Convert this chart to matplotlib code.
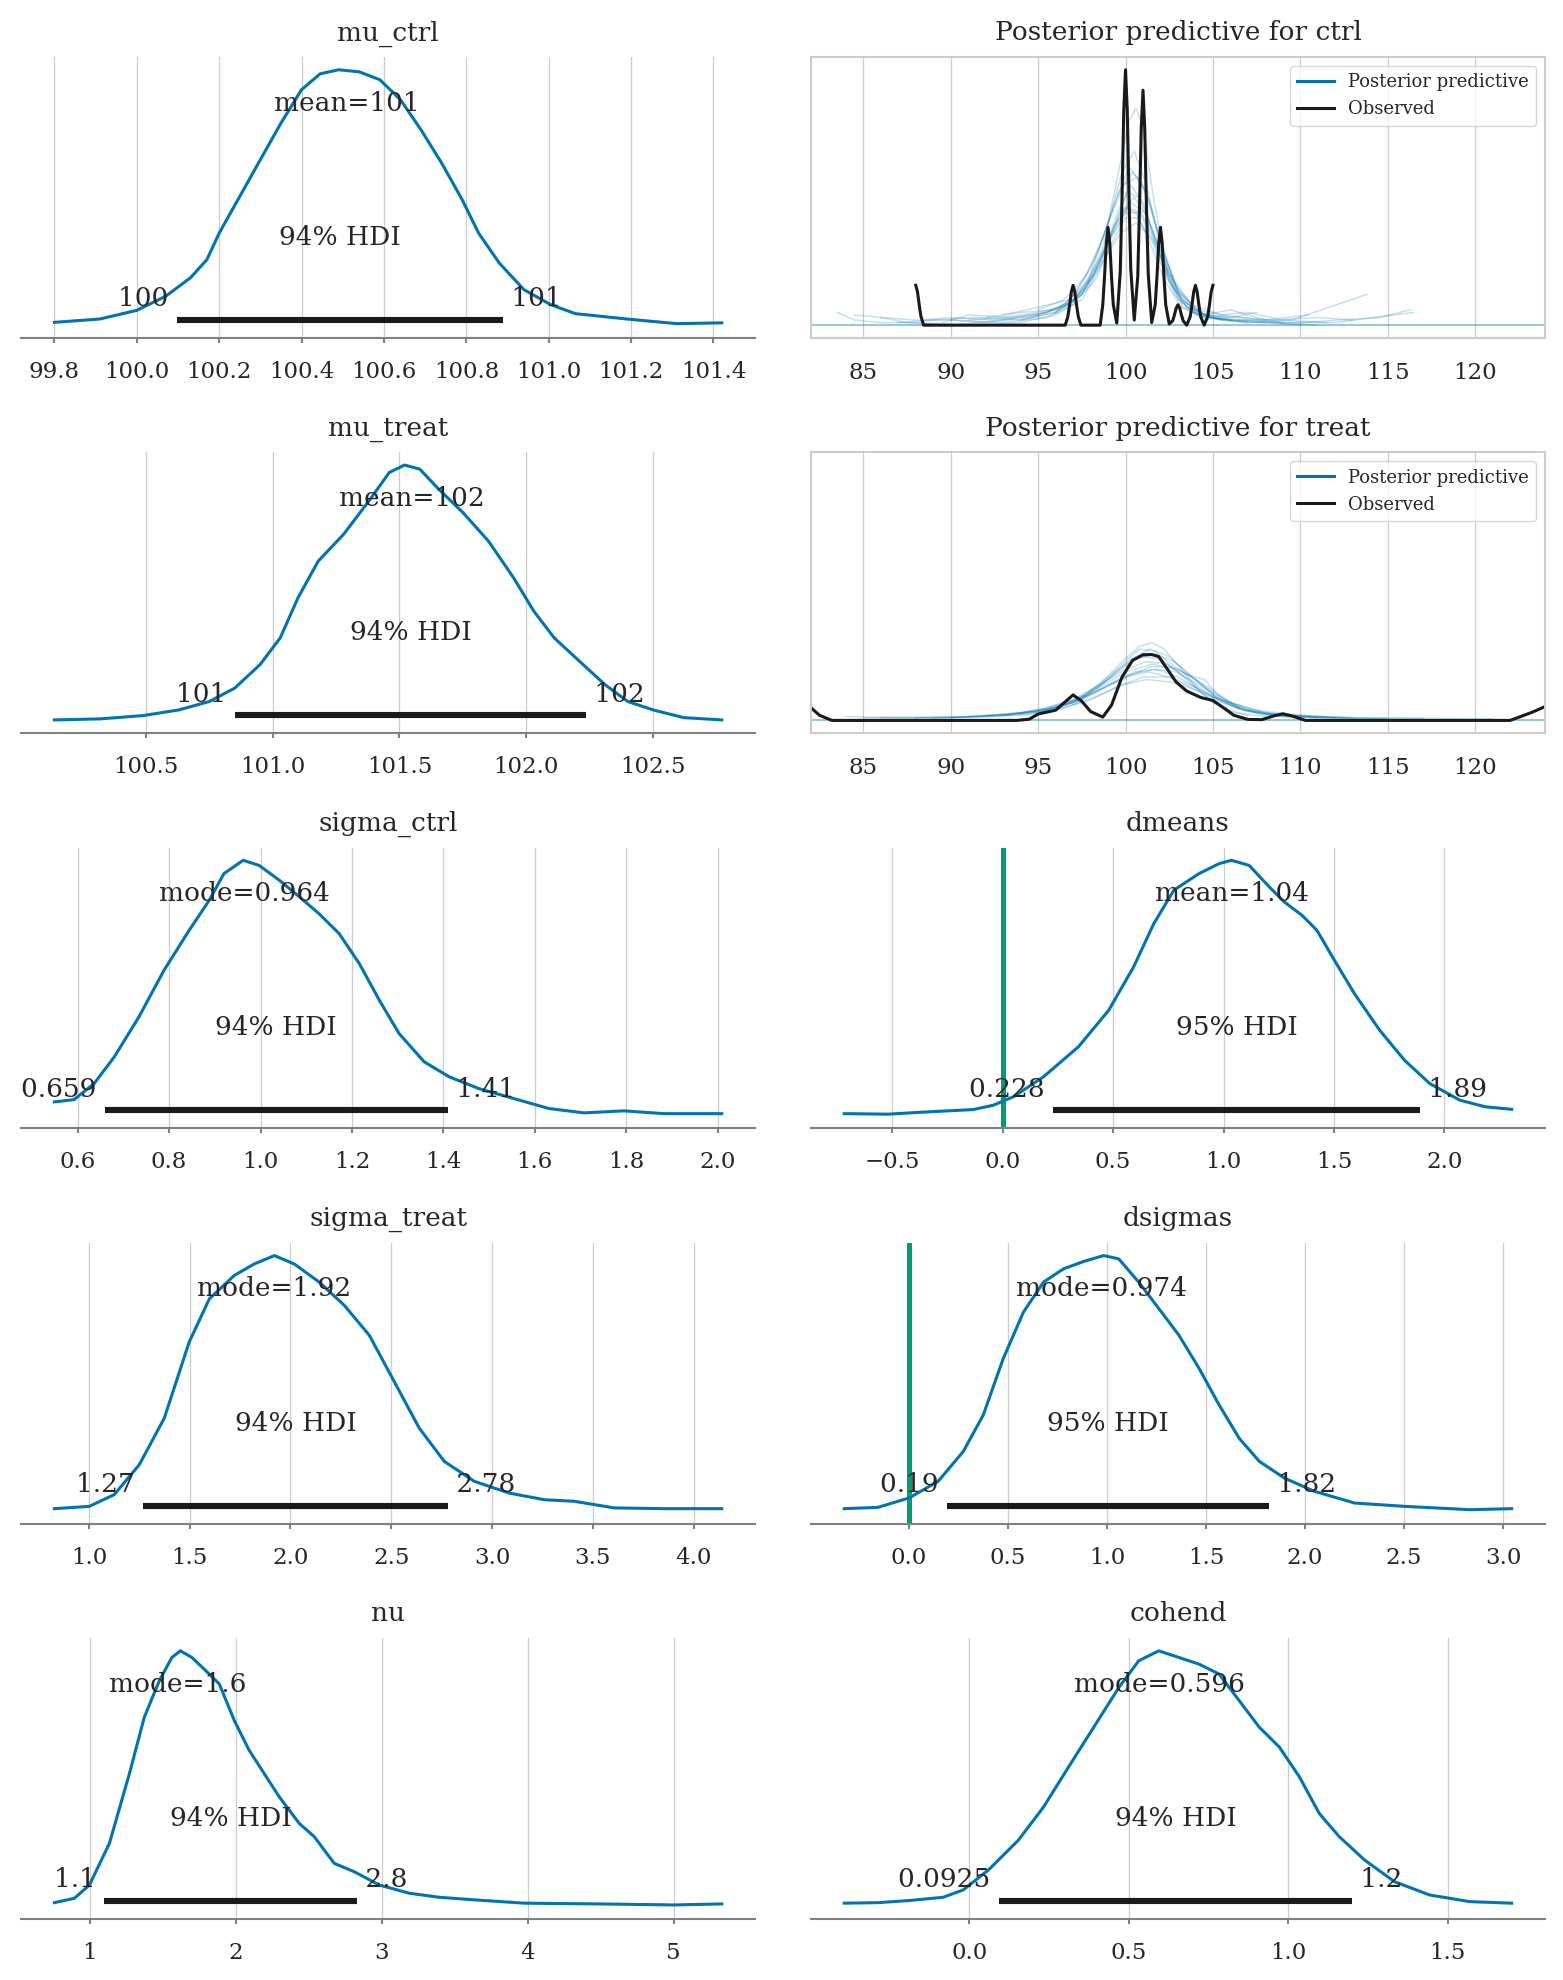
import matplotlib as mpl
import matplotlib.pyplot as plt
from matplotlib.lines import Line2D
from matplotlib.ticker import MultipleLocator

mpl.use("Agg")

plt.rcParams["font.family"] = ["DejaVu Serif"]
plt.rcParams["text.color"] = "#262626"

BLUE = "#0173B2"
GREEN = "#029E73"
GRID = "#cccccc"
TEXT = "#262626"

# ---- posterior densities (peak scaled to 1) ----
mu_ctrl_x = [99.80, 99.91, 100.00, 100.07, 100.13, 100.17, 100.20, 100.25, 100.30, 100.35,
             100.40, 100.445, 100.49, 100.54, 100.59, 100.64, 100.69, 100.74, 100.79, 100.83,
             100.88, 100.94, 101.005, 101.065, 101.19, 101.31, 101.42]
mu_ctrl_y = [0.011, 0.024, 0.058, 0.113, 0.185, 0.256, 0.36, 0.504, 0.648, 0.791,
             0.922, 0.984, 1.0, 0.992, 0.961, 0.883, 0.765, 0.635, 0.491, 0.36,
             0.243, 0.139, 0.08, 0.045, 0.024, 0.006, 0.009]

mu_treat_x = [100.14, 100.32, 100.49, 100.63, 100.75, 100.85, 100.95, 101.03, 101.10, 101.18,
              101.28, 101.38, 101.46, 101.52, 101.58, 101.655, 101.75, 101.85, 101.95, 102.03,
              102.11, 102.21, 102.31, 102.40, 102.50, 102.62, 102.77]
mu_treat_y = [0.002, 0.006, 0.019, 0.041, 0.074, 0.126, 0.218, 0.323, 0.48, 0.624,
              0.729, 0.86, 0.971, 1.0, 0.984, 0.905, 0.814, 0.703, 0.558, 0.427,
              0.323, 0.231, 0.14, 0.074, 0.041, 0.011, 0.002]

sigma_ctrl_x = [0.549, 0.592, 0.636, 0.68, 0.734, 0.789, 0.844, 0.888, 0.92, 0.962,
                0.997, 1.041, 1.085, 1.128, 1.172, 1.216, 1.26, 1.303, 1.358, 1.413,
                1.478, 1.566, 1.631, 1.708, 1.795, 1.883, 2.009]
sigma_ctrl_y = [0.054, 0.063, 0.126, 0.23, 0.387, 0.57, 0.726, 0.844, 0.948, 1.0,
                0.98, 0.922, 0.857, 0.791, 0.713, 0.596, 0.452, 0.322, 0.211, 0.152,
                0.106, 0.061, 0.028, 0.011, 0.019, 0.008, 0.008]

dmeans_x = [-0.718, -0.52, -0.339, -0.134, -0.043, 0.048, 0.184, 0.343, 0.48, 0.593,
            0.684, 0.775, 0.889, 0.98, 1.036, 1.116, 1.207, 1.275, 1.355, 1.423,
            1.502, 1.593, 1.707, 1.82, 1.934, 2.07, 2.184, 2.305]
dmeans_y = [0.008, 0.006, 0.015, 0.024, 0.041, 0.074, 0.152, 0.27, 0.413, 0.583,
            0.752, 0.883, 0.948, 0.987, 1.0, 0.98, 0.896, 0.837, 0.785, 0.726,
            0.609, 0.478, 0.335, 0.217, 0.126, 0.061, 0.035, 0.025]

sigma_treat_x = [0.829, 1.002, 1.126, 1.25, 1.374, 1.498, 1.598, 1.721, 1.82, 1.92,
                 2.019, 2.143, 2.267, 2.391, 2.515, 2.639, 2.763, 2.912, 3.085, 3.259,
                 3.407, 3.605, 3.853, 4.139]
sigma_treat_y = [0.009, 0.018, 0.064, 0.181, 0.363, 0.662, 0.831, 0.922, 0.967, 1.0,
                 0.967, 0.896, 0.805, 0.688, 0.506, 0.324, 0.194, 0.116, 0.07, 0.044,
                 0.038, 0.012, 0.009, 0.009]

dsigmas_x = [-0.327, -0.157, 0.0, 0.147, 0.274, 0.375, 0.476, 0.578, 0.679, 0.78,
             0.882, 0.983, 1.059, 1.16, 1.262, 1.363, 1.465, 1.566, 1.667, 1.769,
             1.895, 2.047, 2.25, 2.503, 2.833, 3.043]
dsigmas_y = [0.009, 0.014, 0.051, 0.116, 0.233, 0.376, 0.597, 0.779, 0.896, 0.948,
             0.977, 1.0, 0.987, 0.896, 0.792, 0.688, 0.558, 0.415, 0.285, 0.194,
             0.129, 0.077, 0.031, 0.018, 0.005, 0.009]

nu_x = [0.757, 0.894, 0.997, 1.134, 1.271, 1.373, 1.476, 1.562, 1.62, 1.699,
        1.784, 1.887, 1.99, 2.092, 2.195, 2.298, 2.435, 2.538, 2.674, 2.812,
        2.983, 3.188, 3.394, 3.634, 3.976, 4.49, 5.003, 5.329]
nu_y = [0.014, 0.031, 0.083, 0.246, 0.519, 0.74, 0.883, 0.974, 1.0, 0.974,
        0.928, 0.87, 0.727, 0.61, 0.519, 0.428, 0.324, 0.272, 0.168, 0.135,
        0.083, 0.051, 0.035, 0.025, 0.012, 0.009, 0.005, 0.009]

cohend_x = [-0.392, -0.286, -0.192, -0.082, -0.019, 0.06, 0.154, 0.233, 0.311, 0.39,
            0.469, 0.531, 0.594, 0.657, 0.72, 0.783, 0.846, 0.909, 0.972, 1.035,
            1.097, 1.16, 1.239, 1.333, 1.443, 1.569, 1.70]
cohend_y = [0.012, 0.014, 0.022, 0.035, 0.064, 0.142, 0.259, 0.389, 0.545, 0.701,
            0.857, 0.961, 1.0, 0.974, 0.948, 0.909, 0.805, 0.701, 0.623, 0.506,
            0.363, 0.272, 0.181, 0.096, 0.044, 0.018, 0.012]

# summaries: hdi bounds, their labels, point estimate
mu_ctrl_hdi = [100.097, 100.889]
mu_treat_hdi = [100.852, 102.236]
sigma_ctrl_hdi = [0.659, 1.41]
dmeans_hdi = [0.228, 1.89]
sigma_treat_hdi = [1.27, 2.78]
dsigmas_hdi = [0.19, 1.82]
nu_hdi = [1.1, 2.83]
cohend_hdi = [0.0925, 1.2]

hdi_labels = {
    "mu_ctrl": ["100", "101"], "mu_treat": ["101", "102"],
    "sigma_ctrl": ["0.659", "1.41"], "dmeans": ["0.228", "1.89"],
    "sigma_treat": ["1.27", "2.78"], "dsigmas": ["0.19", "1.82"],
    "nu": ["1.1", "2.8"], "cohend": ["0.0925", "1.2"],
}
point_values = {
    "mu_ctrl": 100.51, "mu_treat": 101.55, "sigma_ctrl": 0.964, "dmeans": 1.04,
    "sigma_treat": 1.92, "dsigmas": 0.974, "nu": 1.6, "cohend": 0.596,
}
point_labels = {
    "mu_ctrl": "mean=101", "mu_treat": "mean=102", "sigma_ctrl": "mode=0.964",
    "dmeans": "mean=1.04", "sigma_treat": "mode=1.92", "dsigmas": "mode=0.974",
    "nu": "mode=1.6", "cohend": "mode=0.596",
}
hdi_prob_text = {
    "mu_ctrl": "94% HDI", "mu_treat": "94% HDI", "sigma_ctrl": "94% HDI",
    "dmeans": "95% HDI", "sigma_treat": "94% HDI", "dsigmas": "95% HDI",
    "nu": "94% HDI", "cohend": "94% HDI",
}
ref_values = {"dmeans": 0.0, "dsigmas": 0.0}
tick_steps = {
    "mu_ctrl": 0.2, "mu_treat": 0.5, "sigma_ctrl": 0.2, "dmeans": 0.5,
    "sigma_treat": 0.5, "dsigmas": 0.5, "nu": 1, "cohend": 0.5,
}

# ---- posterior predictive (observed peak scaled to 1) ----
ctrl_obs_x = [88.0, 88.1, 88.2, 88.3, 88.45, 96.55, 96.7, 96.8, 96.9, 97.0, 97.1, 97.2, 97.3, 97.45,
              98.55, 98.7, 98.8, 98.9, 99.0, 99.1, 99.2, 99.3, 99.5,
              99.7, 99.8, 99.9, 100.0, 100.1, 100.2, 100.3, 100.5,
              100.7, 100.8, 100.9, 101.0, 101.1, 101.2, 101.3, 101.5,
              101.7, 101.8, 101.9, 102.0, 102.1, 102.2, 102.3, 102.5,
              102.7, 102.8, 102.9, 103.0, 103.1, 103.2, 103.3, 103.5,
              103.7, 103.8, 103.9, 104.0, 104.1, 104.2, 104.3, 104.5,
              104.7, 104.8, 104.9, 105.0]
ctrl_obs_y = [0.156, 0.13, 0.078, 0.033, 0.0, 0.0, 0.033, 0.078, 0.13, 0.156, 0.13, 0.078, 0.033, 0.0,
              0.0, 0.08, 0.19, 0.32, 0.383, 0.32, 0.19, 0.08, 0.008,
              0.21, 0.50, 0.84, 1.0, 0.84, 0.50, 0.22, 0.02,
              0.19, 0.46, 0.77, 0.92, 0.77, 0.46, 0.20, 0.01,
              0.08, 0.19, 0.32, 0.383, 0.32, 0.19, 0.08, 0.005,
              0.017, 0.04, 0.067, 0.08, 0.067, 0.04, 0.017, 0.0,
              0.033, 0.078, 0.13, 0.156, 0.13, 0.078, 0.033, 0.0,
              0.033, 0.078, 0.13, 0.156]

ctrl_pp_x = [
    [83.5, 84.5, 86, 88, 91, 94, 96, 97.5, 98.5, 99.3, 100.0, 100.6, 101.3, 102.2, 103.2, 104.5, 106, 108.5, 111],
    [86, 87.5, 90, 93, 95.5, 97, 98.2, 99.2, 100.1, 100.8, 101.6, 102.5, 103.5, 105, 107, 109.5, 113.8],
    [90, 92, 94.5, 96.5, 97.8, 98.8, 99.6, 100.3, 101.0, 101.8, 102.8, 104, 106, 108, 110],
    [94, 96, 97.5, 98.7, 99.6, 100.2, 100.6, 101.0, 101.6, 102.4, 103.3, 104.5, 106],
    [84.5, 86, 88, 90, 93, 95.5, 97, 98.3, 99.2, 100.0, 100.7, 101.5, 102.4, 103.5, 105, 107, 109, 112, 116.5],
    [88.5, 90, 92.5, 95, 96.5, 97.8, 98.8, 99.7, 100.5, 101.3, 102.2, 103.2, 104.5, 106.5, 108],
    [92, 94, 96, 97.5, 98.6, 99.5, 100.3, 101.1, 102.0, 103.0, 104.2, 106, 108.5, 111, 113],
    [95, 96.5, 97.7, 98.7, 99.6, 100.4, 101.2, 102.0, 103.0, 104.5, 106, 107.5],
    [87, 89, 91.5, 94, 96, 97.5, 98.7, 99.7, 100.6, 101.5, 102.5, 103.8, 105.5, 108, 110.5],
    [93, 95, 96.8, 98, 99, 99.9, 100.7, 101.4, 102.2, 103.2, 104.5, 106, 107.5, 109],
    [89.5, 91, 93.5, 95.5, 97, 98.2, 99.2, 100.1, 100.9, 101.8, 102.8, 104, 105.5, 107, 109, 111.5],
    [96, 97.2, 98.4, 99.4, 100.2, 101.0, 101.9, 102.9, 104, 105.5, 107],
    [91, 93, 95, 96.8, 98.1, 99.1, 100.0, 100.8, 101.7, 102.7, 103.9, 105.5, 107.5, 110, 114.5, 116.3],
    [97, 98, 99, 99.8, 100.5, 101.2, 102.0, 103.0, 104.2, 105.5],
]
ctrl_pp_y = [
    [0.05, 0.02, 0.01, 0.01, 0.0, 0.01, 0.04, 0.10, 0.22, 0.38, 0.46, 0.44, 0.34, 0.18, 0.07, 0.03, 0.02, 0.01, 0.0],
    [0.03, 0.01, 0.0, 0.02, 0.05, 0.09, 0.2, 0.36, 0.52, 0.5, 0.36, 0.17, 0.07, 0.03, 0.01, 0.02, 0.12],
    [0.02, 0.01, 0.03, 0.07, 0.15, 0.3, 0.45, 0.55, 0.48, 0.3, 0.12, 0.04, 0.02, 0.01, 0.0],
    [0.02, 0.05, 0.12, 0.3, 0.6, 0.8, 0.85, 0.78, 0.5, 0.2, 0.07, 0.03, 0.02],
    [0.04, 0.03, 0.02, 0.02, 0.01, 0.03, 0.08, 0.18, 0.32, 0.42, 0.42, 0.33, 0.18, 0.07, 0.03, 0.02, 0.01, 0.01, 0.05],
    [0.02, 0.03, 0.02, 0.04, 0.08, 0.17, 0.3, 0.44, 0.5, 0.42, 0.24, 0.1, 0.04, 0.03, 0.02],
    [0.03, 0.05, 0.06, 0.12, 0.26, 0.4, 0.48, 0.44, 0.3, 0.14, 0.05, 0.02, 0.02, 0.03, 0.02],
    [0.06, 0.1, 0.19, 0.34, 0.52, 0.6, 0.52, 0.33, 0.13, 0.04, 0.03, 0.05],
    [0.01, 0.02, 0.03, 0.02, 0.05, 0.12, 0.25, 0.36, 0.4, 0.34, 0.2, 0.08, 0.04, 0.02, 0.04],
    [0.04, 0.07, 0.1, 0.22, 0.4, 0.55, 0.58, 0.48, 0.28, 0.1, 0.04, 0.06, 0.03, 0.01],
    [0.01, 0.04, 0.03, 0.05, 0.1, 0.2, 0.35, 0.46, 0.44, 0.32, 0.16, 0.06, 0.04, 0.05, 0.02, 0.01],
    [0.05, 0.13, 0.28, 0.48, 0.62, 0.55, 0.35, 0.14, 0.05, 0.02, 0.01],
    [0.02, 0.03, 0.05, 0.08, 0.18, 0.33, 0.44, 0.44, 0.32, 0.15, 0.05, 0.02, 0.01, 0.01, 0.03, 0.06],
    [0.09, 0.2, 0.4, 0.6, 0.68, 0.55, 0.3, 0.1, 0.04, 0.02],
]

treat_obs_x = [82.0, 82.5, 83.2, 93.8, 94.5, 95.0, 96.0, 96.5, 97.0, 97.5, 98.0, 98.7, 99.2, 99.8,
               100.4, 101.0, 101.5, 101.9, 102.4, 102.9, 103.5, 104.3, 105.0, 105.6, 106.2,
               107.0, 107.8, 108.5, 109.0, 109.5, 110.3, 122.0, 122.6, 123.3, 124.0]
treat_obs_y = [0.05, 0.02, 0.0, 0.0, 0.005, 0.025, 0.04, 0.07, 0.10, 0.075, 0.035, 0.013, 0.06, 0.17,
               0.235, 0.257, 0.258, 0.25, 0.2, 0.15, 0.115, 0.09, 0.078, 0.05, 0.02,
               0.004, 0.003, 0.018, 0.026, 0.018, 0.0, 0.0, 0.015, 0.033, 0.054]

treat_pp_x = [
    [84, 87, 90, 93, 95, 97, 98.5, 100, 101.3, 102.5, 104, 105.5, 107, 109, 112, 115],
    [88, 91, 94, 96, 97.5, 99, 100.3, 101.4, 102.5, 103.8, 105.2, 106.8, 108.5, 111],
    [92, 94, 95.5, 97, 98.5, 100, 101.5, 103, 104.5, 106, 108, 110.5, 113],
    [95, 97, 98.5, 99.8, 100.8, 101.5, 102.2, 103.2, 104.3, 105.5, 107],
    [86, 89, 92, 94.5, 96.5, 98.2, 99.8, 101.2, 102.6, 104, 105.5, 107.5, 110, 113, 117],
    [93, 95, 97, 98.5, 100, 101.2, 102.4, 103.6, 105, 106.5, 108, 110, 112.5],
    [90, 93, 95.5, 97.5, 99, 100.5, 101.8, 103, 104.5, 106, 107.5, 110, 114, 118, 121],
    [96, 97.5, 98.8, 100, 101, 102, 103, 104, 105, 106.2, 108],
    [85, 88, 91, 94, 96, 98, 99.5, 101, 102.5, 104, 105.5, 107, 109, 112],
    [94, 96, 97.8, 99.2, 100.5, 101.7, 102.8, 104, 105.2, 106.5, 108, 110],
    [91, 93.5, 95.5, 97.2, 98.8, 100.3, 101.6, 102.9, 104.2, 105.6, 107.2, 109, 111.5],
    [97, 98.5, 99.8, 100.8, 101.7, 102.6, 103.5, 104.5, 105.3, 106.5],
    [89, 92, 95, 97, 98.6, 100.1, 101.4, 102.6, 103.8, 105, 106.5, 108.5, 111, 115],
]
treat_pp_y = [
    [0.015, 0.01, 0.012, 0.02, 0.035, 0.07, 0.12, 0.17, 0.19, 0.17, 0.12, 0.07, 0.035, 0.015, 0.01, 0.005],
    [0.01, 0.015, 0.03, 0.05, 0.09, 0.16, 0.24, 0.28, 0.25, 0.17, 0.09, 0.04, 0.02, 0.01],
    [0.02, 0.03, 0.05, 0.08, 0.13, 0.19, 0.22, 0.2, 0.14, 0.07, 0.03, 0.015, 0.01],
    [0.03, 0.07, 0.14, 0.23, 0.29, 0.305, 0.28, 0.2, 0.11, 0.05, 0.02],
    [0.012, 0.01, 0.015, 0.025, 0.05, 0.09, 0.14, 0.16, 0.15, 0.12, 0.08, 0.04, 0.02, 0.01, 0.008],
    [0.02, 0.04, 0.08, 0.14, 0.2, 0.23, 0.22, 0.16, 0.09, 0.045, 0.025, 0.02, 0.01],
    [0.01, 0.02, 0.04, 0.08, 0.14, 0.19, 0.2, 0.17, 0.11, 0.06, 0.03, 0.015, 0.01, 0.008, 0.006],
    [0.04, 0.09, 0.16, 0.22, 0.25, 0.24, 0.19, 0.13, 0.07, 0.03, 0.015],
    [0.01, 0.012, 0.015, 0.02, 0.04, 0.08, 0.13, 0.17, 0.17, 0.13, 0.08, 0.04, 0.02, 0.01],
    [0.025, 0.05, 0.1, 0.17, 0.24, 0.26, 0.23, 0.16, 0.09, 0.045, 0.02, 0.01],
    [0.015, 0.025, 0.045, 0.08, 0.13, 0.18, 0.2, 0.19, 0.14, 0.08, 0.04, 0.02, 0.012],
    [0.06, 0.13, 0.22, 0.28, 0.27, 0.22, 0.18, 0.16, 0.1, 0.05],
    [0.008, 0.015, 0.035, 0.07, 0.12, 0.17, 0.21, 0.21, 0.17, 0.11, 0.05, 0.02, 0.01, 0.005],
]


def plot_posterior(ax, name, x, y, hdi):
    top = max(y)
    ax.set_ylim(-0.05 * top, 1.05 * top)
    h = 1.05 * top
    if name in ref_values:
        ax.axvline(ref_values[name], color=GREEN, lw=3.6, zorder=1)
    ax.plot(x, y, color=BLUE, lw=2.2, zorder=2, solid_joinstyle="round")
    ax.plot(hdi, [0.02 * h, 0.02 * h], color="#1a1a1a", lw=4.4,
            solid_capstyle="butt", zorder=3)
    lo, hi = hdi_labels[name]
    ax.text(hdi[0], 0.07 * h, lo + " ", ha="right", fontsize=19, zorder=4)
    ax.text(hdi[1], 0.07 * h, " " + hi, ha="left", fontsize=19, zorder=4)
    ax.text(point_values[name], 0.8 * h, point_labels[name],
            ha="center", fontsize=19, zorder=4)
    ax.text((hdi[0] + hdi[1]) / 2, 0.3 * h, hdi_prob_text[name],
            ha="center", fontsize=19, zorder=4)
    ax.xaxis.set_major_locator(MultipleLocator(tick_steps[name]))
    ax.set_yticks([])
    for side in ["left", "right", "top"]:
        ax.spines[side].set_visible(False)
    ax.spines["bottom"].set_color("0.5")
    ax.spines["bottom"].set_linewidth(1.5)
    ax.grid(axis="x", color=GRID, lw=0.9)
    ax.set_axisbelow(True)
    ax.tick_params(axis="x", direction="out", length=3.5, width=1.5,
                   color="0.5", labelcolor=TEXT, labelsize=16.5, pad=13)
    ax.set_title(name, fontsize=19, pad=12)


def plot_ppc(ax, group, obs_x, obs_y, pp_x, pp_y, ylim, xlim):
    ax.axhline(0, color=BLUE, alpha=0.4, lw=1.5)
    for xs, ys in zip(pp_x, pp_y):
        ax.plot(xs, ys, color=BLUE, alpha=0.22, lw=1.1)
    ax.plot(obs_x, obs_y, color="#1a1a1a", lw=2.2)
    ax.set_xlim(xlim)
    ax.set_ylim(ylim)
    ax.xaxis.set_major_locator(MultipleLocator(5))
    ax.set_yticks([])
    for side in ax.spines:
        ax.spines[side].set_color("0.8")
        ax.spines[side].set_linewidth(1.5)
    ax.grid(axis="x", color=GRID, lw=0.9)
    ax.set_axisbelow(True)
    ax.tick_params(axis="x", length=0, labelcolor=TEXT, labelsize=16.5, pad=17)
    ax.set_title("Posterior predictive for " + group, fontsize=19, pad=12)
    handles = [Line2D([], [], color=BLUE, lw=2.2),
               Line2D([], [], color="#1a1a1a", lw=2.2)]
    ax.legend(handles, ["Posterior predictive", "Observed"], loc="upper right",
              fontsize=13, edgecolor="0.8")


fig, axes = plt.subplots(5, 2, figsize=(15.63, 19.8), dpi=100)
fig.subplots_adjust(left=21 / 1563, right=1545 / 1563, top=1 - 57 / 1980,
                    bottom=1 - 1919 / 1980, wspace=0.076, hspace=0.407)

plot_posterior(axes[0, 0], "mu_ctrl", mu_ctrl_x, mu_ctrl_y, mu_ctrl_hdi)
plot_posterior(axes[1, 0], "mu_treat", mu_treat_x, mu_treat_y, mu_treat_hdi)
plot_posterior(axes[2, 0], "sigma_ctrl", sigma_ctrl_x, sigma_ctrl_y, sigma_ctrl_hdi)
plot_posterior(axes[2, 1], "dmeans", dmeans_x, dmeans_y, dmeans_hdi)
plot_posterior(axes[3, 0], "sigma_treat", sigma_treat_x, sigma_treat_y, sigma_treat_hdi)
plot_posterior(axes[3, 1], "dsigmas", dsigmas_x, dsigmas_y, dsigmas_hdi)
plot_posterior(axes[4, 0], "nu", nu_x, nu_y, nu_hdi)
plot_posterior(axes[4, 1], "cohend", cohend_x, cohend_y, cohend_hdi)

ppc_top = max(ctrl_obs_y)
ppc_ylim = (-0.05 * ppc_top, 1.05 * ppc_top)
ppc_xlim = (min(treat_obs_x), max(treat_obs_x))
plot_ppc(axes[0, 1], "ctrl", ctrl_obs_x, ctrl_obs_y, ctrl_pp_x, ctrl_pp_y, ppc_ylim, ppc_xlim)
plot_ppc(axes[1, 1], "treat", treat_obs_x, treat_obs_y, treat_pp_x, treat_pp_y, ppc_ylim, ppc_xlim)

plt.savefig("out.png", dpi=100)
